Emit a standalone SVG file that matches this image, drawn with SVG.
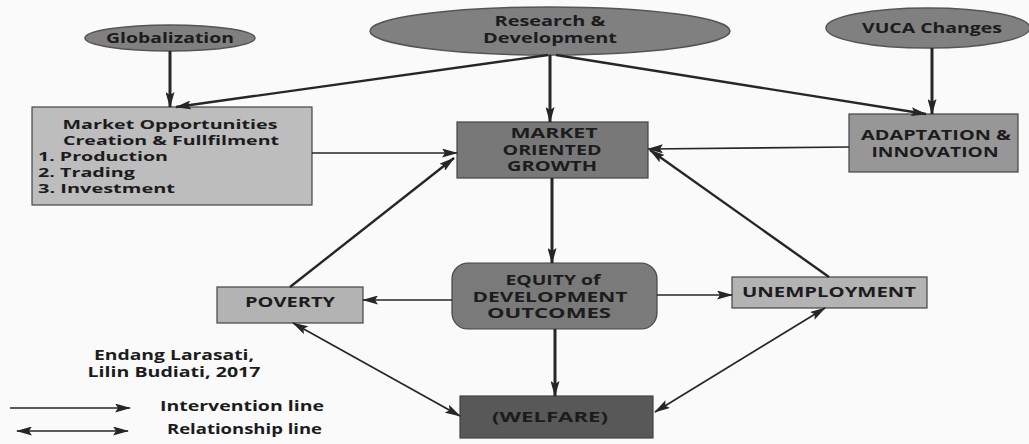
<svg xmlns="http://www.w3.org/2000/svg" width="1029" height="444" viewBox="0 0 1029 444">
<defs>
<style>
.t{font-family:"Open Sans","Liberation Sans",sans-serif;font-weight:bold;font-size:13.5px;fill:#1c1c1c;}
.s{font-size:11.5px;}
.e{fill:#808080;stroke:#555;stroke-width:1.5;}
.b{stroke:#444;stroke-width:1.2;}
.c{fill:none;stroke:#262626;}
.k{stroke-width:3;}
.m{stroke-width:2.4;}
.n{stroke-width:1.7;}
</style>
<marker id="ah" viewBox="0 0 16 9" refX="15" refY="4.5" markerWidth="16" markerHeight="9" markerUnits="userSpaceOnUse" orient="auto-start-reverse">
<path d="M0,0 L16,4.5 L0,9 L3,4.5 z" fill="#262626"/>
</marker>
</defs>
<rect width="1029" height="444" fill="#fafafa"/>

<g id="globalization">
<ellipse class="e" cx="170" cy="38" rx="85" ry="13"/>
<text class="t" x="170" y="43" text-anchor="middle" textLength="128" lengthAdjust="spacingAndGlyphs">Globalization</text>
</g>
<g id="research">
<ellipse class="e" cx="550" cy="31" rx="180" ry="24"/>
<text class="t" x="550" y="26" text-anchor="middle" textLength="111" lengthAdjust="spacingAndGlyphs">Research &amp;</text>
<text class="t" x="550" y="43" text-anchor="middle" textLength="134" lengthAdjust="spacingAndGlyphs">Development</text>
</g>
<g id="vuca">
<ellipse class="e" cx="928" cy="28" rx="102" ry="20"/>
<text class="t" x="932" y="33" text-anchor="middle" textLength="140" lengthAdjust="spacingAndGlyphs">VUCA Changes</text>
</g>
<g id="market-opportunities">
<rect class="b" x="32" y="107" width="280" height="98" fill="#bdbdbd"/>
<text class="t s" x="170" y="129" text-anchor="middle" textLength="215" lengthAdjust="spacingAndGlyphs">Market Opportunities</text>
<text class="t s" x="171" y="145" text-anchor="middle" textLength="216" lengthAdjust="spacingAndGlyphs">Creation &amp; Fullfilment</text>
<text class="t s" x="38" y="161" textLength="130" lengthAdjust="spacingAndGlyphs">1. Production</text>
<text class="t s" x="38" y="177" textLength="97" lengthAdjust="spacingAndGlyphs">2. Trading</text>
<text class="t s" x="38" y="193" textLength="137" lengthAdjust="spacingAndGlyphs">3. Investment</text>
</g>
<g id="market-oriented-growth">
<rect class="b" x="457" y="122" width="191" height="56" fill="#787878"/>
<text class="t" x="554" y="138" text-anchor="middle" textLength="87" lengthAdjust="spacingAndGlyphs">MARKET</text>
<text class="t" x="552" y="155" text-anchor="middle" textLength="99" lengthAdjust="spacingAndGlyphs">ORIENTED</text>
<text class="t" x="552" y="171" text-anchor="middle" textLength="90" lengthAdjust="spacingAndGlyphs">GROWTH</text>
</g>
<g id="adaptation">
<rect class="b" x="849" y="114" width="169" height="58" fill="#979797"/>
<text class="t" x="936" y="140" text-anchor="middle" textLength="150" lengthAdjust="spacingAndGlyphs">ADAPTATION &amp;</text>
<text class="t" x="935" y="157" text-anchor="middle" textLength="127" lengthAdjust="spacingAndGlyphs">INNOVATION</text>
</g>
<g id="poverty">
<rect class="b" x="217" y="287" width="146" height="36" fill="#b3b3b3"/>
<text class="t" x="290" y="307" text-anchor="middle" textLength="90" lengthAdjust="spacingAndGlyphs">POVERTY</text>
</g>
<g id="equity">
<rect class="b" x="452" y="263" width="205" height="66" rx="16" fill="#7a7a7a"/>
<text class="t" x="553" y="285" text-anchor="middle" textLength="95" lengthAdjust="spacingAndGlyphs">EQUITY of</text>
<text class="t" x="550" y="302" text-anchor="middle" textLength="155" lengthAdjust="spacingAndGlyphs">DEVELOPMENT</text>
<text class="t" x="549" y="318" text-anchor="middle" textLength="124" lengthAdjust="spacingAndGlyphs">OUTCOMES</text>
</g>
<g id="unemployment">
<rect class="b" x="732" y="277" width="195" height="31" fill="#b3b3b3"/>
<text class="t" x="829" y="297" text-anchor="middle" textLength="174" lengthAdjust="spacingAndGlyphs">UNEMPLOYMENT</text>
</g>
<g id="welfare">
<rect class="b" x="460" y="396" width="193" height="42" fill="#585858"/>
<text class="t" x="550" y="422" text-anchor="middle" textLength="116" lengthAdjust="spacingAndGlyphs">(WELFARE)</text>
</g>

<g id="connectors">
<line class="c k" x1="170" y1="51" x2="170" y2="107" marker-end="url(#ah)"/>
<line class="c m" x1="548" y1="55" x2="176" y2="107" marker-end="url(#ah)"/>
<line class="c k" x1="550" y1="55" x2="550" y2="122" marker-end="url(#ah)"/>
<line class="c m" x1="556" y1="55" x2="926" y2="114" marker-end="url(#ah)"/>
<line class="c k" x1="932" y1="48" x2="932" y2="114" marker-end="url(#ah)"/>
<line class="c n" x1="312" y1="153" x2="457" y2="153" marker-end="url(#ah)"/>
<line class="c n" x1="849" y1="147" x2="648" y2="149" marker-end="url(#ah)"/>
<line class="c m" x1="290" y1="287" x2="454" y2="158" marker-end="url(#ah)"/>
<line class="c m" x1="829" y1="277" x2="650" y2="150" marker-end="url(#ah)"/>
<line class="c k" x1="552" y1="178" x2="552" y2="263" marker-end="url(#ah)"/>
<line class="c n" x1="452" y1="300" x2="363" y2="300" marker-end="url(#ah)"/>
<line class="c n" x1="657" y1="295" x2="732" y2="295" marker-end="url(#ah)"/>
<line class="c k" x1="555" y1="329" x2="555" y2="396" marker-end="url(#ah)"/>
<line class="c n" x1="293" y1="323" x2="460" y2="416" marker-start="url(#ah)" marker-end="url(#ah)"/>
<line class="c n" x1="825" y1="308" x2="655" y2="412" marker-start="url(#ah)" marker-end="url(#ah)"/>
</g>

<g id="legend">
<text class="t" x="174" y="360" text-anchor="middle" textLength="160" lengthAdjust="spacingAndGlyphs">Endang Larasati,</text>
<text class="t" x="174" y="377" text-anchor="middle" textLength="173" lengthAdjust="spacingAndGlyphs">Lilin Budiati, 2017</text>
<line class="c n" x1="10" y1="408" x2="130" y2="408" marker-end="url(#ah)"/>
<text class="t" x="160" y="411" textLength="164" lengthAdjust="spacingAndGlyphs">Intervention line</text>
<line class="c n" x1="17" y1="431" x2="128" y2="431" marker-start="url(#ah)" marker-end="url(#ah)"/>
<text class="t" x="167" y="434" textLength="155" lengthAdjust="spacingAndGlyphs">Relationship line</text>
</g>
</svg>
